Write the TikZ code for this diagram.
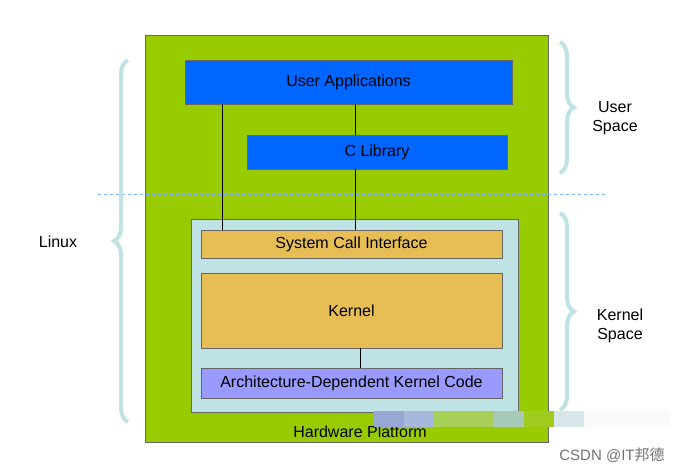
\documentclass[tikz,border=0pt]{standalone}
\usepackage{fontspec}
\setmainfont{Liberation Sans}
\newfontfamily\cjk{Noto Sans CJK SC}
\usetikzlibrary{decorations.pathreplacing}
\definecolor{grn}{HTML}{99CC00}
\definecolor{blu}{HTML}{0066FF}
\definecolor{lb}{HTML}{BFE3E5}
\definecolor{org}{HTML}{E6BE55}
\definecolor{pur}{HTML}{9999FF}
\definecolor{w1}{HTML}{98A8D4}\definecolor{w2}{HTML}{A6B8DC}\definecolor{w3}{HTML}{A8CF58}
\definecolor{w4}{HTML}{AACF58}\definecolor{w5}{HTML}{A8C8B8}\definecolor{w6}{HTML}{A0CC20}
\definecolor{w7}{HTML}{D8E8EA}\definecolor{w8}{HTML}{FAFAFA}
\begin{document}
\begin{tikzpicture}[x=1pt,y=-1pt,
  every node/.style={font=\fontsize{16}{19}\selectfont},
  box/.style={draw=black!60,line width=0.6pt},
  br/.style={draw=lb,line width=4pt,decorate,decoration={brace,amplitude=14pt}},
  ln/.style={line width=1pt}]
\useasboundingbox (0,0) rectangle (691,473);
\fill[white] (0,0) rectangle (691,473);
\draw[box,fill=grn] (145,35) rectangle (548,442);
\node[box,fill=blu,minimum width=327,minimum height=44,inner sep=0] (ua) at (348.5,82) {User Applications};
\node[box,fill=blu,minimum width=260,minimum height=34,inner sep=0] (cl) at (377,152) {C Library};
\draw[box,fill=lb] (191,219) rectangle (518,412);
\node[box,fill=org,minimum width=301,minimum height=28,inner sep=0] (sci) at (351.5,244) {System Call Interface};
\node[box,fill=org,minimum width=301,minimum height=75,inner sep=0] (k) at (351.5,310.5) {Kernel};
\node[box,fill=pur,minimum width=301,minimum height=30,inner sep=0] (ar) at (351.5,383) {Architecture-Dependent Kernel Code};
\node (hw) at (360,432) {Hardware Platform};
\draw[ln] (ua.south -| 222,0) -- (sci.north -| 222,0);
\draw[ln] (ua.south -| 355,0) -- (cl.north -| 355,0);
\draw[ln] (cl.south -| 355,0) -- (sci.north -| 355,0);
\draw[ln] (k.south -| 360,0) -- (ar.north -| 360,0);
\draw[dashed,draw=blu!50,line width=0.6pt] (98,194) -- (607,194);
\draw[br] (128,422) -- (128,60);
\draw[br] (560,42) -- (560,173);
\draw[br] (560,213) -- (560,410);
\node (linux) at (58,242) {Linux};
\node[align=center] (us) at (615,118) {User\\Space};
\node[align=center] (ks) at (620,326) {Kernel\\Space};
\fill[w1] (374,411) rectangle (404,427);
\fill[w2] (404,411) rectangle (434,427);
\fill[w3] (434,411) rectangle (464,427);
\fill[w4] (464,411) rectangle (494,427);
\fill[w5] (494,411) rectangle (524,427);
\fill[w6] (524,411) rectangle (554,427);
\fill[w7] (554,411) rectangle (584,427);
\fill[w8] (584,411) rectangle (670,427);
\node[text=black!55,font=\fontsize{15}{18}\selectfont] (wm) at (612,455) {CSDN @IT{\cjk 邦德}};
\end{tikzpicture}
\end{document}
